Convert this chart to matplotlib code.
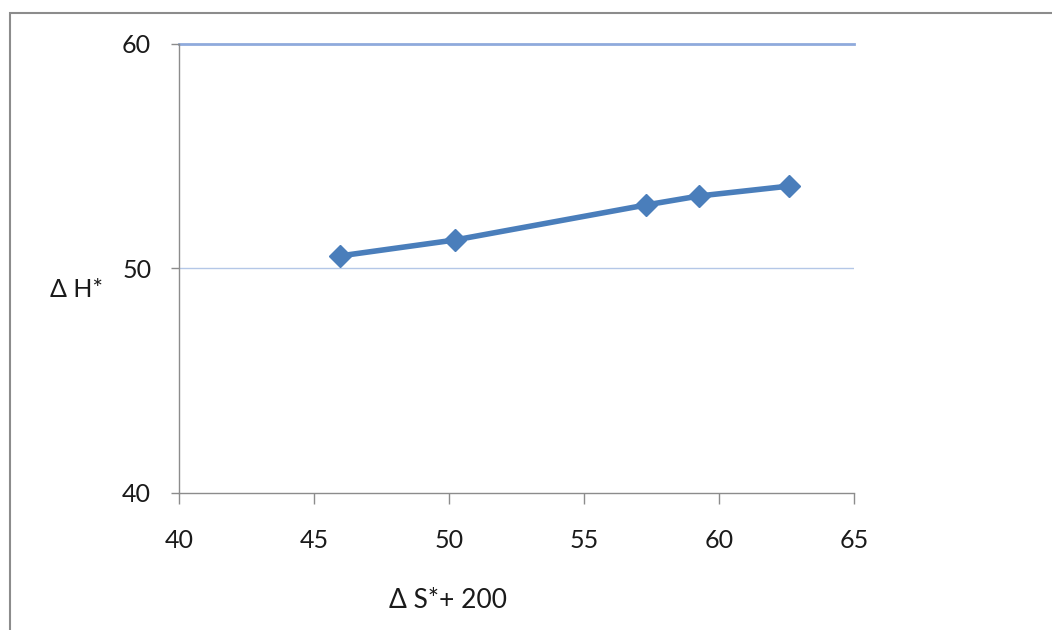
import matplotlib
matplotlib.use("Agg")
import matplotlib.pyplot as plt
from matplotlib.patches import Rectangle

x_vals = [45.96, 50.22, 57.30, 59.26, 62.59]
y_vals = [50.56, 51.27, 52.83, 53.23, 53.67]
x_ticks = [40, 45, 50, 55, 60, 65]
y_ticks = [40, 50, 60]

plt.rcParams['font.family'] = ['Lato', 'DejaVu Sans']

fig = plt.figure(figsize=(10.52, 6.30), dpi=100)
fig.patch.set_facecolor('white')

# outer chart frame
fig.patches.append(Rectangle((10/1052, -0.1), 1.2, 1 - 13/630 + 0.1,
                             transform=fig.transFigure, fill=False,
                             edgecolor='#8c8c8c', linewidth=1.5, zorder=0))

ax = fig.add_axes([179/1052, 1 - 493/630, (854-179)/1052, (493-44)/630])
ax.set_xlim(40, 65)
ax.set_ylim(40, 60)
ax.set_xticks(x_ticks)
ax.set_yticks(y_ticks)

# gridlines
ax.axhline(50, color='#b4c7e7', linewidth=1.0, zorder=1)
ax.axhline(60, color='#8faadc', linewidth=2.0, zorder=1, clip_on=False)

for s in ['top', 'right']:
    ax.spines[s].set_visible(False)
for s in ['left', 'bottom']:
    ax.spines[s].set_color('#8c8c8c')
    ax.spines[s].set_linewidth(1.0)

ax.tick_params(axis='x', direction='out', length=8, width=1, color='#8c8c8c',
               labelsize=18, pad=18, labelcolor='#1a1a1a')
ax.tick_params(axis='y', direction='out', length=6, width=1, color='#8c8c8c',
               labelsize=18, pad=14, labelcolor='#1a1a1a')

ax.plot(x_vals, y_vals, color='#4a7ebb', linewidth=4.0, marker='D',
        markersize=11, markerfacecolor='#4a7ebb', markeredgecolor='#4a7ebb',
        zorder=3, solid_capstyle='round', solid_joinstyle='round')

fig.text(50/1052, 1 - 290/630, 'Δ H*', fontsize=18, ha='left', va='center',
         color='#1a1a1a')
fig.text(448/1052, 1 - 601/630, 'Δ S*+ 200', fontsize=19, ha='center',
         va='center', color='#1a1a1a')

fig.savefig('out.png', dpi=100, facecolor='white')
